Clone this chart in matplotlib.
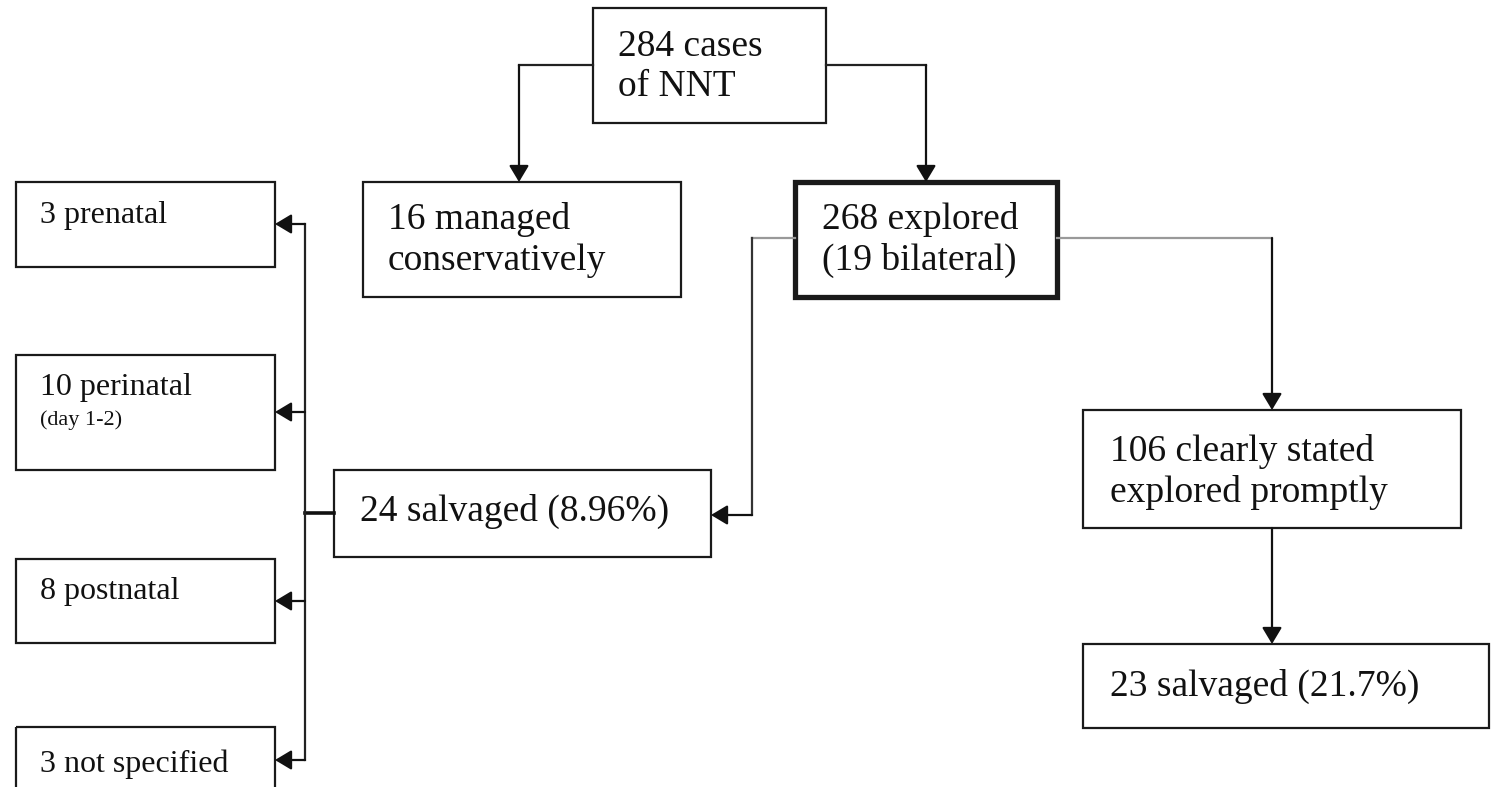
import matplotlib
matplotlib.use('Agg')
import matplotlib.pyplot as plt
from matplotlib.patches import Rectangle

plt.rcParams['font.family'] = ['Liberation Serif', 'DejaVu Serif']

# --- flowchart content ---
top_label = '284 cases\nof NNT'
branch_labels = ['16 managed\nconservatively', '268 explored\n(19 bilateral)']
salvaged_label = '24 salvaged (8.96%)'
prompt_labels = ['106 clearly stated\nexplored promptly', '23 salvaged (21.7%)']
timing_labels = ['3 prenatal', '10 perinatal', '8 postnatal', '3 not specified']
timing_notes = ['', '(day 1-2)', '', '']

# --- layout in pixel coordinates (left, top, right, bottom) ---
W, H = 1496, 787
BOX_TOP = (593, 8, 826, 123)
BOX_CONS = (363, 182, 681, 297)
BOX_EXPL = (795, 182, 1057, 297)
BOX_SALV = (334, 470, 711, 557)
BOX_PROMPT = (1083, 410, 1461, 528)
BOX_SALV2 = (1083, 644, 1489, 728)
TIMING_BOXES = [(16, 182, 275, 267), (16, 355, 275, 470),
                (16, 559, 275, 643), (16, 727, 275, 800)]
TIMING_ARROW_Y = [224, 412, 601, 760]
SPINE_X = 305

fig = plt.figure(figsize=(W / 100, H / 100), dpi=100)
ax = fig.add_axes([0, 0, 1, 1])
ax.set_xlim(0, W)
ax.set_ylim(H, 0)
ax.axis('off')


def box(b, lw=1.6):
    l, t, r, btm = b
    ax.add_patch(Rectangle((l, t), r - l, btm - t, fill=False,
                           edgecolor='#1a1a1a', linewidth=lw, joinstyle='miter'))


def label(x, y, s, size=27):
    ax.text(x, y, s, fontsize=size, ha='left', va='center', color='#111111',
            linespacing=1.22)


def path(pts, color='#222222', lw=1.6):
    xs = [p[0] for p in pts]
    ys = [p[1] for p in pts]
    ax.plot(xs[:-1], ys[:-1], color=color, lw=lw, solid_joinstyle='miter')
    ax.annotate('', xy=pts[-1], xytext=pts[-2],
                arrowprops=dict(arrowstyle='-|>,head_length=0.5,head_width=0.3',
                                mutation_scale=20, color='#111111', lw=lw,
                                shrinkA=0, shrinkB=0))


# boxes
box(BOX_TOP)
box(BOX_CONS)
box(BOX_EXPL, lw=3.8)
box(BOX_SALV)
box(BOX_PROMPT)
box(BOX_SALV2)
for b in TIMING_BOXES:
    box(b)

# text
label(618, 67, top_label)
label(388, 240, branch_labels[0])
label(822, 240, branch_labels[1])
label(360, 511, salvaged_label)
label(1110, 472, prompt_labels[0])
label(1110, 686, prompt_labels[1])
timing_text_y = [215, 387, 591, 764]
for s, note, y in zip(timing_labels, timing_notes, timing_text_y):
    label(40, y, s, size=23)
    if note:
        ax.text(40, y + 33, note, fontsize=16, ha='left', va='center', color='#111111')

# connectors
path([(593, 65), (519, 65), (519, 182)])
path([(826, 65), (926, 65), (926, 182)])

ax.plot([795, 752], [238, 238], color='#999999', lw=1.6)
path([(752, 238), (752, 515), (711, 515)], color='#333333')
ax.plot([1057, 1272], [238, 238], color='#999999', lw=1.6)
path([(1272, 238), (1272, 410)], color='#333333')
path([(1272, 528), (1272, 644)])

# salvaged -> timing split
ax.plot([334, SPINE_X], [513, 513], color='#111111', lw=2.6)
ax.plot([SPINE_X, SPINE_X], [TIMING_ARROW_Y[0], TIMING_ARROW_Y[-1]], color='#222222', lw=1.6)
for b, y in zip(TIMING_BOXES, TIMING_ARROW_Y):
    path([(SPINE_X, y), (b[2], y)])

fig.savefig('out.png', dpi=100, facecolor='white')
